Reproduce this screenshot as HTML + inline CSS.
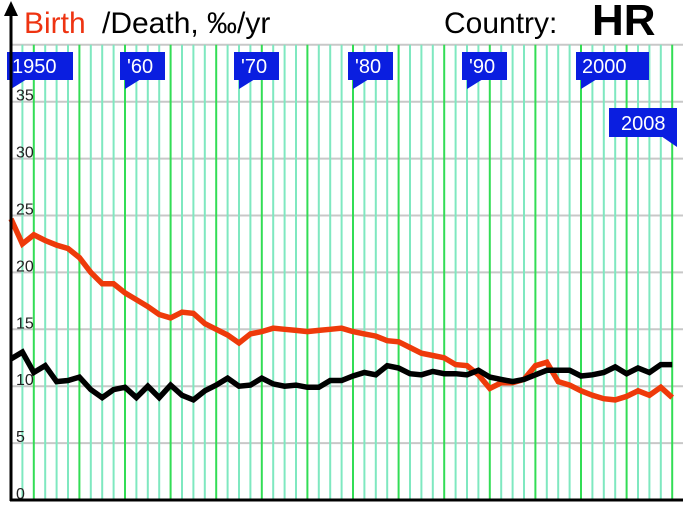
<!DOCTYPE html>
<html><head><meta charset="utf-8"><style>
html,body{margin:0;padding:0;background:#fff;}
svg{display:block;font-family:"Liberation Sans",sans-serif;}
</style></head><body>
<svg id="s" width="683" height="512" viewBox="0 0 683 512" xmlns="http://www.w3.org/2000/svg">
<rect width="683" height="512" fill="#fff"/>
<g id="grid"></g>
<text x="24" y="33" font-size="30" fill="#ee3311">Birth</text>
<text x="102" y="33" font-size="30" fill="#000">/Death, ‰/yr</text>
<text x="444" y="33" font-size="30" fill="#000">Country:</text>
<text x="592" y="35" font-size="44" font-weight="bold" fill="#000">HR</text>
<g id="lab" font-size="16" fill="#222"></g>
<g id="flags" font-size="20" fill="#fff"></g>
<polyline id="red" fill="none" stroke="#ee3a0a" stroke-width="5.5" stroke-linejoin="miter"/>
<polyline id="blk" fill="none" stroke="#000" stroke-width="5.5" stroke-linejoin="miter"/>
<line x1="11" y1="12" x2="11" y2="501" stroke="#000" stroke-width="3"/>
<polygon points="11,1 4,16 18,16" fill="#000"/>
<line x1="10" y1="500" x2="683" y2="500" stroke="#000" stroke-width="3"/>
</svg>
<script>
var NS="http://www.w3.org/2000/svg";
function el(p,t,a,txt){var e=document.createElementNS(NS,t);for(var k in a)e.setAttribute(k,a[k]);if(txt!=null)e.textContent=txt;p.appendChild(e);return e;}
var g=document.getElementById('grid');
function X(y){return 11+11.4*(y-1950);}
function Y(v){return 500-11.38*v;}
for(var v=5;v<=40;v+=5){el(g,'line',{x1:11,x2:683,y1:Y(v),y2:Y(v),stroke:'#c8c8c8','stroke-width':2});}
for(var y=1951;y<=2008;y++){var green=(y%4==0);el(g,'line',{x1:X(y),x2:X(y),y1:Y(40),y2:500,stroke:green?'#33dd55':'#7fe8c0','stroke-width':2});}
var lab=document.getElementById('lab');
for(var v=0;v<=35;v+=5){el(lab,'text',{x:16,y:Y(v)-1},String(v));}
var f=document.getElementById('flags');
function flag(x1,x2,y1,y2,px,py,txt,tx,right){
 el(f,'rect',{x:x1,y:y1,width:x2-x1,height:y2-y1,fill:'#0a1ee0'});
 el(f,'polygon',{points:(!right?(px+','+(y2-1)+' '+(px+16)+','+(y2-1)+' '+px+','+py):((px-16)+','+(y2-1)+' '+px+','+(y2-1)+' '+px+','+py)),fill:'#0a1ee0'});
 el(f,'text',{x:tx,y:y2-7},txt);
}
flag(7,73,52,80,11,89,'1950',12,false);
var dl=["'60","'70","'80","'90","2000"];
for(var i=0;i<5;i++){var px=X(1960+10*i);flag(px-5,px+(i==4?68:40),52,80,px,89,dl[i],px+(i==4?1:2),false);}
flag(609,677,108,137,677,147,'2008',621,true);
var R=[24.7,22.5,23.3,22.8,22.4,22.1,21.3,20,19,19,18.2,17.6,17,16.3,16,16.5,16.4,15.5,15,14.5,13.8,14.6,14.8,15.1,15,14.9,14.8,14.9,15,15.1,14.8,14.6,14.4,14,13.9,13.4,12.9,12.7,12.5,11.9,11.8,11,9.8,10.3,10.3,10.6,11.8,12.1,10.4,10.1,9.6,9.2,8.9,8.8,9.1,9.6,9.2,9.9,9];
var B=[12.4,13,11.2,11.8,10.4,10.5,10.8,9.7,9,9.7,9.9,9,10,9,10.1,9.2,8.8,9.6,10.1,10.7,10,10.1,10.7,10.2,10,10.1,9.9,9.9,10.5,10.5,10.9,11.2,11,11.8,11.6,11.1,11,11.3,11.1,11.1,11,11.4,10.8,10.6,10.4,10.6,11,11.4,11.4,11.4,10.9,11,11.2,11.7,11.1,11.6,11.2,11.9,11.9];
function pts(a){return a.map(function(v,i){return X(1950+i).toFixed(1)+','+Y(v).toFixed(1);}).join(' ');}
document.getElementById('red').setAttribute('points',pts(R));
document.getElementById('blk').setAttribute('points',pts(B));
</script>
</body></html>
